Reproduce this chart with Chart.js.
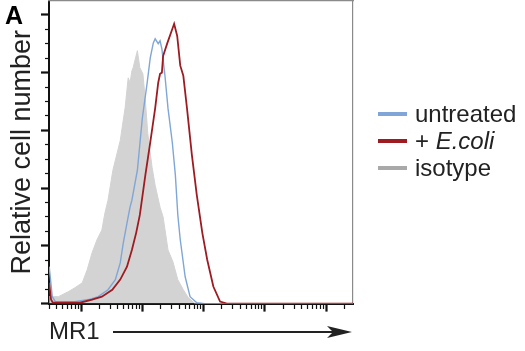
<!DOCTYPE html>
<html>
<head>
<meta charset="utf-8">
<script src="https://cdn.jsdelivr.net/npm/chart.js@4.4.0/dist/chart.umd.min.js"></script>
<style>
  html, body { margin: 0; padding: 0; background: #fff; }
  #wrap { position: relative; width: 525px; height: 351px; font-family: 'Liberation Sans', Arial, sans-serif; }
  #panel { position: absolute; left: 5px; top: 3px; font-weight: bold; font-size: 25px; line-height: 1; color: #000; }
  #legend { position: absolute; left: 378px; top: 100px; font-size: 24px; color: #222; }
  .row { height: 27px; line-height: 27px; display: flex; align-items: center; white-space: nowrap; }
  .sw { width: 29px; height: 4px; margin-right: 8px; }
</style>
</head>
<body>
<div id="wrap">
  <canvas id="myChart" width="525" height="351"></canvas>
  <div id="panel">A</div>
  <div id="legend">
    <div class="row"><span class="sw" style="background:#7fa6d6"></span>untreated</div>
    <div class="row"><span class="sw" style="background:#9e1b22"></span>+&nbsp;<i>E.coli</i></div>
    <div class="row"><span class="sw" style="background:#a9a9a9"></span>isotype</div>
  </div>
</div>
<script>
// MR1 fluorescence (log decades) vs relative cell number (% of max)
const isotype = [
  [0.48, 2.4], [0.63, 2.4], [0.79, 4.1], [0.90, 5.5], [1.02, 7.2], [1.10, 11.7],
  [1.18, 17.6], [1.26, 22.1], [1.34, 25.5], [1.39, 31.4], [1.44, 35.8], [1.52, 46.2],
  [1.64, 56.5], [1.72, 67.9], [1.77, 78.2], [1.80, 76.5], [1.83, 80.6], [1.85, 81.7],
  [1.92, 87.6], [1.96, 81.7], [2.01, 79.6], [2.05, 70.3], [2.09, 58.9], [2.16, 47.2],
  [2.21, 41.0], [2.29, 33.4], [2.34, 30.0], [2.42, 18.6], [2.50, 14.5], [2.58, 8.3],
  [2.67, 4.8], [2.75, 2.1], [2.86, 0], [5.44, 0]
];
const untreated = [
  [0.48, 12.8], [0.53, 2.4], [0.58, 0.7], [0.90, 0.7], [1.12, 1.4], [1.28, 2.4],
  [1.44, 4.8], [1.56, 8.3], [1.64, 14.1], [1.69, 21.0], [1.75, 27.9], [1.80, 33.4],
  [1.83, 35.8], [1.92, 46.2], [2.00, 64.1], [2.08, 76.5], [2.13, 85.1], [2.18, 90.3],
  [2.21, 91.7], [2.26, 90.0], [2.29, 91.0], [2.32, 88.2], [2.37, 78.9], [2.42, 67.6],
  [2.49, 55.8], [2.54, 44.5], [2.58, 30.7], [2.62, 22.1], [2.70, 9.3], [2.78, 2.4],
  [2.89, 0.3], [3.02, 0], [5.44, 0]
];
const eColi = [
  [0.48, 7.2], [0.51, 1.4], [0.54, 0.3], [0.98, 0.3], [1.18, 1.4], [1.34, 2.4],
  [1.51, 4.8], [1.64, 8.3], [1.75, 12.8], [1.83, 18.6], [1.90, 24.5], [1.96, 30.7],
  [2.05, 44.5], [2.13, 55.8], [2.21, 67.6], [2.26, 76.5], [2.29, 79.6], [2.32, 80.0],
  [2.34, 85.8], [2.41, 90.3], [2.49, 95.1], [2.52, 96.9], [2.57, 92.7], [2.62, 82.4],
  [2.67, 78.9], [2.73, 67.6], [2.81, 51.4], [2.89, 37.6], [2.98, 24.5], [3.06, 15.2],
  [3.16, 5.9], [3.27, 0.7], [3.38, 0], [5.44, 0]
];

const xRange = [0.477, 5.44];
const xDecades = [0, 1, 2, 3, 4, 5];
const xMinorSteps = [2, 3, 4, 5, 6, 7, 8, 9];
const yRange = [0, 104.8];
const yTicks = [0, 5, 10, 15, 20, 25, 30, 35, 40, 45, 50, 55, 60, 65, 70, 75, 80, 85, 90, 95, 100];
const yMajorEvery = 20;

const xTicks = [];
xDecades.forEach(d => {
    xTicks.push({ value: d, major: true });
    xMinorSteps.forEach(k => xTicks.push({ value: d + Math.log10(k), major: false }));
});
const xTicksInRange = xTicks.filter(t => t.value >= xRange[0] - 0.001 && t.value <= xRange[1]);

const toPts = arr => arr.map(p => ({ x: p[0], y: p[1] }));

// ticks: majors long & thick, minors half length (dashed trick)
const xIsMajor = c => c.tick && c.tick.major;
const yIsMajor = c => c.tick && c.tick.value % yMajorEvery === 0;

const arrowPlugin = {
    id: 'mr1Arrow',
    afterDraw(chart) {
        const { ctx, chartArea } = chart;
        const y = 332;
        const x0 = chartArea.left + 64;
        const tip = chartArea.right - 1;
        ctx.save();
        ctx.strokeStyle = '#222';
        ctx.fillStyle = '#222';
        ctx.lineWidth = 2;
        ctx.beginPath();
        ctx.moveTo(x0, y);
        ctx.lineTo(tip - 18, y);
        ctx.stroke();
        ctx.beginPath();
        ctx.moveTo(tip, y);
        ctx.lineTo(tip - 25, y - 6);
        ctx.lineTo(tip - 19, y);
        ctx.lineTo(tip - 25, y + 6);
        ctx.closePath();
        ctx.fill();
        ctx.restore();
    }
};

Chart.defaults.font.family = "'Liberation Sans', Arial, sans-serif";
Chart.defaults.color = '#222';

const ctx = document.getElementById('myChart').getContext('2d');
const chartInstance = new Chart(ctx, {
    type: 'line',
    data: {
        datasets: [
            {
                label: '+ E.coli',
                data: toPts(eColi),
                borderColor: '#9e1b22',
                borderWidth: 1.8,
                pointRadius: 0,
                fill: false,
                order: 1
            },
            {
                label: 'untreated',
                data: toPts(untreated),
                borderColor: '#7fa6d6',
                borderWidth: 1.4,
                pointRadius: 0,
                fill: false,
                order: 2
            },
            {
                label: 'isotype',
                data: toPts(isotype),
                borderColor: '#d3d3d3',
                backgroundColor: '#d3d3d3',
                borderWidth: 1,
                pointRadius: 0,
                fill: 'origin',
                order: 3
            }
        ]
    },
    options: {
        responsive: false,
        animation: false,
        layout: { padding: { left: 2, right: 172, top: 1, bottom: 4.6 } },
        plugins: {
            legend: { display: false },
            tooltip: { enabled: false }
        },
        scales: {
            x: {
                type: 'linear',
                position: 'bottom',
                min: xRange[0],
                max: xRange[1],
                afterBuildTicks: s => { s.ticks = xTicksInRange.map(t => ({ value: t.value, major: t.major })); },
                ticks: { display: false },
                border: { color: '#111', width: 2 },
                grid: {
                    drawOnChartArea: false,
                    tickLength: 8,
                    tickColor: '#111',
                    tickWidth: c => xIsMajor(c) ? 2.2 : 1.2,
                    tickBorderDash: c => xIsMajor(c) ? [] : [4, 4],
                    tickBorderDashOffset: 0
                },
                title: {
                    display: true,
                    text: 'MR1',
                    align: 'start',
                    color: '#222',
                    font: { size: 24 },
                    padding: { top: 6, bottom: 0 }
                }
            },
            y: {
                type: 'linear',
                min: yRange[0],
                max: yRange[1],
                afterBuildTicks: s => { s.ticks = yTicks.map(v => ({ value: v })); },
                ticks: { display: false },
                border: { color: '#111', width: 2 },
                grid: {
                    drawOnChartArea: false,
                    tickLength: 8,
                    tickColor: '#111',
                    tickWidth: c => yIsMajor(c) ? 2.2 : 1.2,
                    tickBorderDash: c => yIsMajor(c) ? [] : [4, 4],
                    tickBorderDashOffset: c => yIsMajor(c) ? 0 : 4
                },
                title: {
                    display: true,
                    text: 'Relative cell number',
                    color: '#222',
                    font: { size: 27 },
                    padding: { top: 4, bottom: 2.6 }
                }
            },
            xTop: {
                type: 'linear',
                position: 'top',
                min: xRange[0],
                max: xRange[1],
                ticks: { display: false },
                grid: { drawOnChartArea: false, drawTicks: false },
                border: { color: '#8a8a8a', width: 1.2 }
            },
            yRight: {
                type: 'linear',
                position: 'right',
                min: yRange[0],
                max: yRange[1],
                ticks: { display: false },
                grid: { drawOnChartArea: false, drawTicks: false },
                border: { color: '#8a8a8a', width: 1.2 }
            }
        }
    },
    plugins: [arrowPlugin]
});
</script>
</body>
</html>
